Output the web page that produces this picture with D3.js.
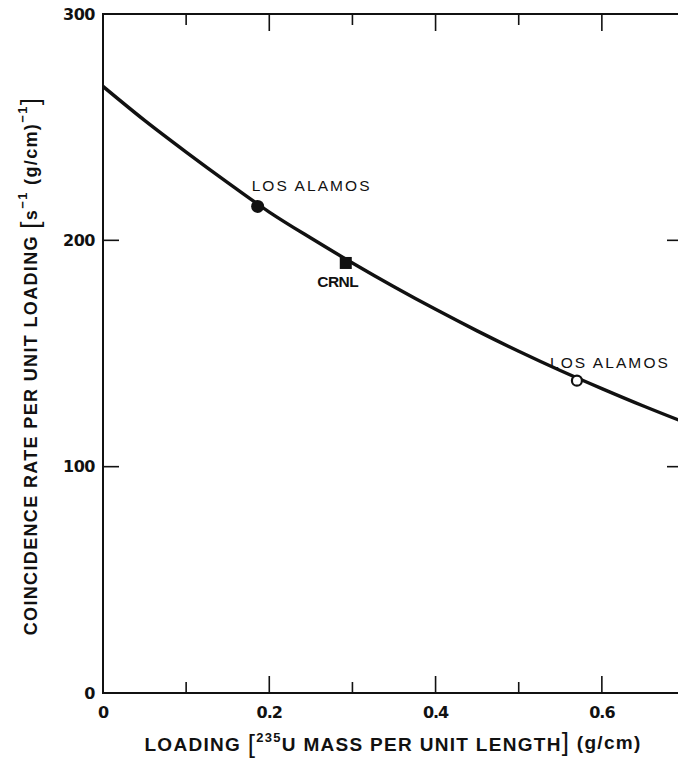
<!DOCTYPE html>
<html>
<head>
<meta charset="utf-8">
<script src="https://cdn.jsdelivr.net/npm/d3@7"></script>
<style>
  body { margin: 0; background: #fff; }
  svg { display: block; }
  text { fill: #111; }
</style>
</head>
<body>
<div id="chart"></div>
<script>
// curve
var loading = [0, 0.05, 0.1, 0.15, 0.2, 0.25, 0.3, 0.35, 0.4, 0.45, 0.5, 0.55, 0.6, 0.65, 0.7];
var rate = [268, 253, 239, 225.5, 212.5, 201, 190, 179.5, 169.5, 160, 151, 142.5, 134.5, 126.8, 119.5];

// measured points
var pointNames = ['LOS ALAMOS', 'CRNL', 'LOS ALAMOS'];
var pointLoading = [0.186, 0.292, 0.570];
var pointRate = [215, 190, 138];
var pointShapes = ['filled', 'square', 'open'];

var xMajor = [0, 0.2, 0.4, 0.6];
var xMinor = [0.1, 0.3, 0.5];
var yTicks = [0, 100, 200, 300];

var W = 678, H = 758;
var margin = { top: 14, left: 103 };
var plotW = 582, plotH = 679;

var svg = d3.select('#chart').append('svg')
  .attr('width', W)
  .attr('height', H);

var g = svg.append('g')
  .attr('transform', 'translate(' + margin.left + ',' + margin.top + ')');

var x = d3.scaleLinear().domain([0, 0.7]).range([0, plotW]);
var y = d3.scaleLinear().domain([0, 300]).range([plotH, 0]);

var tickFont = 'DejaVu Sans, sans-serif';

// frame
g.append('rect')
  .attr('width', plotW)
  .attr('height', plotH)
  .attr('fill', 'none')
  .attr('stroke', '#111')
  .attr('stroke-width', 2);

// ticks, all drawn inward
xMajor.concat(xMinor).forEach(function(v) {
  var len = xMajor.indexOf(v) >= 0 ? 17 : 11;
  if (v === 0) return;
  g.append('line').attr('x1', x(v)).attr('x2', x(v))
    .attr('y1', plotH).attr('y2', plotH - len)
    .attr('stroke', '#111').attr('stroke-width', 1.6);
  g.append('line').attr('x1', x(v)).attr('x2', x(v))
    .attr('y1', 0).attr('y2', len)
    .attr('stroke', '#111').attr('stroke-width', 1.6);
});
yTicks.forEach(function(v) {
  if (v === 0 || v === 300) return;
  g.append('line').attr('x1', 0).attr('x2', 16)
    .attr('y1', y(v)).attr('y2', y(v))
    .attr('stroke', '#111').attr('stroke-width', 1.6);
  g.append('line').attr('x1', plotW).attr('x2', plotW - 18)
    .attr('y1', y(v)).attr('y2', y(v))
    .attr('stroke', '#111').attr('stroke-width', 1.6);
});

// tick labels
g.selectAll('.ylab')
  .data(yTicks)
  .enter().append('text')
  .attr('class', 'ylab')
  .attr('x', -8)
  .attr('y', d => y(d))
  .attr('dy', '0.36em')
  .attr('text-anchor', 'end')
  .style('font-family', tickFont)
  .style('font-weight', 'bold')
  .style('font-size', '16px')
  .style('letter-spacing', '-0.5px')
  .text(d => d);

g.selectAll('.xlab')
  .data(xMajor)
  .enter().append('text')
  .attr('class', 'xlab')
  .attr('x', d => x(d))
  .attr('y', plotH + 25)
  .attr('text-anchor', 'middle')
  .style('font-family', tickFont)
  .style('font-weight', 'bold')
  .style('font-size', '16px')
  .style('letter-spacing', '-1px')
  .text(d => d === 0 ? '0' : d3.format('.1f')(d));

// curve
svg.append('clipPath').attr('id', 'plotclip')
  .append('rect').attr('width', plotW).attr('height', plotH);

var line = d3.line()
  .x((d, i) => x(loading[i]))
  .y(d => y(d))
  .curve(d3.curveCatmullRom);

g.append('path')
  .datum(rate)
  .attr('clip-path', 'url(#plotclip)')
  .attr('d', line)
  .attr('fill', 'none')
  .attr('stroke', '#111')
  .attr('stroke-width', 3.4);

// points
pointLoading.forEach(function(v, i) {
  var px = x(v), py = y(pointRate[i]);
  if (pointShapes[i] === 'square') {
    g.append('rect')
      .attr('x', px - 6).attr('y', py - 6)
      .attr('width', 12).attr('height', 12)
      .attr('fill', '#111');
  } else if (pointShapes[i] === 'filled') {
    g.append('circle').attr('cx', px).attr('cy', py).attr('r', 6.5).attr('fill', '#111');
  } else {
    g.append('circle').attr('cx', px).attr('cy', py).attr('r', 5)
      .attr('fill', '#fff').attr('stroke', '#111').attr('stroke-width', 2.2);
  }
});

// point labels
var labelOffsets = [[-6, -15, 'start'], [-8, 24, 'middle'], [-27, -13, 'start']];
pointNames.forEach(function(name, i) {
  var o = labelOffsets[i];
  var t = g.append('text')
    .attr('x', x(pointLoading[i]) + o[0])
    .attr('y', y(pointRate[i]) + o[1])
    .attr('text-anchor', o[2])
    .style('font-family', 'Liberation Sans, Arial, sans-serif')
    .style('font-size', '15.5px')
    .text(name);
  if (name === 'CRNL') {
    t.style('font-weight', 'bold').style('letter-spacing', '-0.5px');
  } else {
    t.style('letter-spacing', '2.1px');
  }
});

// axis titles
var titleFont = 'Liberation Sans, Arial, sans-serif';

var xt = svg.append('text')
  .attr('x', 393)
  .attr('y', 751)
  .attr('text-anchor', 'middle')
  .style('font-family', titleFont)
  .style('font-weight', 'bold')
  .style('font-size', '19px')
  .style('letter-spacing', '1.3px');
xt.append('tspan').text('LOADING ');
xt.append('tspan').style('font-size', '26px').style('font-weight', 'normal').attr('dy', 2).text('[');
xt.append('tspan').style('font-size', '13px').attr('dy', -11).text('235');
xt.append('tspan').attr('dy', 9).text('U MASS PER UNIT LENGTH');
xt.append('tspan').style('font-size', '26px').style('font-weight', 'normal').text(']');
xt.append('tspan').attr('dy', -2).text(' (g/cm)');

var yt = svg.append('text')
  .attr('transform', 'translate(37,366) rotate(-90)')
  .attr('text-anchor', 'middle')
  .style('font-family', titleFont)
  .style('font-weight', 'bold')
  .style('font-size', '18px')
  .style('letter-spacing', '1.35px');
yt.append('tspan').text('COINCIDENCE RATE PER UNIT LOADING ');
yt.append('tspan').style('font-size', '26px').style('font-weight', 'normal').attr('dy', 2).text('[');
yt.append('tspan').attr('dy', -2).text('s');
yt.append('tspan').style('font-size', '13px').attr('dy', -10).text('\u22121');
yt.append('tspan').attr('dy', 10).text(' (g/cm)');
yt.append('tspan').style('font-size', '13px').attr('dy', -10).text('\u22121');
yt.append('tspan').style('font-size', '26px').style('font-weight', 'normal').attr('dy', 12).text(']');
</script>
</body>
</html>
